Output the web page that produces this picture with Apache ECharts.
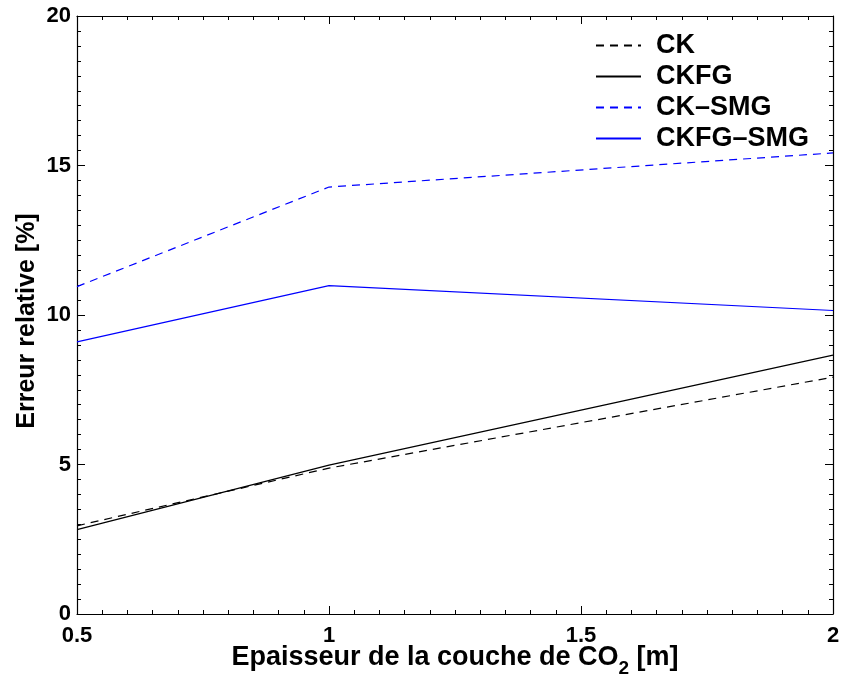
<!DOCTYPE html>
<html><head><meta charset="utf-8">
<script src="https://cdn.jsdelivr.net/npm/echarts@6/dist/echarts.min.js"></script>
<style>html,body{margin:0;padding:0;background:#fff}#c{width:844px;height:677px}</style>
</head><body><div id="c"></div>
<script>
const xValues = [0.5, 1, 2];
const ck = [2.95, 4.88, 7.92];
const ckfg = [2.82, 4.98, 8.66];
const ckSmg = [10.95, 14.28, 15.42];
const ckfgSmg = [9.1, 10.98, 10.15];
const seriesNames = ['CK', 'CKFG', 'CK\u2013SMG', 'CKFG\u2013SMG'];

const FONT = '"Liberation Sans", Arial, sans-serif';
const pair = (ys) => xValues.map((x, i) => [x, ys[i]]);
const mk = (name, ys, color, type) => ({
  name, type: 'line', data: pair(ys), symbol: 'none', showSymbol: false, smooth: false,
  lineStyle: {color, width: 1.2, type}, itemStyle: {color}, z: 3
});
const tickStyle = {show: true, inside: true, length: 8, lineStyle: {color: '#000', width: 1}};
const minorStyle = {show: true, splitNumber: 10, length: 4, lineStyle: {color: '#000', width: 1}};

const chart = echarts.init(document.getElementById('c'));
chart.setOption({
  animation: false,
  backgroundColor: '#fff',
  grid: {left: 77, right: 11, top: 16, bottom: 63, show: false, containLabel: false, outerBoundsMode: 'none'},
  legend: {
    orient: 'vertical', right: 30, top: 27, itemWidth: 45, itemHeight: 14, itemGap: 4,
    itemStyle: {opacity: 0},
    textStyle: {fontFamily: FONT, fontWeight: 'bold', fontSize: 27, color: '#000', padding: [0, 0, 0, 10]},
    data: seriesNames
  },
  xAxis: [{
    type: 'value', min: 0.5, max: 2, interval: 0.5,
    axisLine: {show: true, onZero: false, lineStyle: {color: '#000', width: 1.2}},
    axisTick: tickStyle, minorTick: minorStyle,
    splitLine: {show: false},
    axisLabel: {fontFamily: FONT, fontWeight: 'bold', fontSize: 22, color: '#000', margin: 11,
      formatter: v => String(v)},
    name: 'Epaisseur de la couche de CO{sub|2} [m]', nameLocation: 'middle', nameGap: 23,
    nameMoveOverlap: false,
    nameTextStyle: {fontFamily: FONT, fontWeight: 'bold', fontSize: 27, color: '#000',
      rich: {sub: {fontFamily: FONT, fontWeight: 'bold', fontSize: 19, color: '#000', verticalAlign: 'bottom', padding: [22, 0, 0, 0]}}}
  }, {
    type: 'value', min: 0.5, max: 2, interval: 0.5, position: 'top',
    axisLine: {show: true, onZero: false, lineStyle: {color: '#000', width: 1.2}},
    axisTick: tickStyle, minorTick: minorStyle, splitLine: {show: false},
    axisLabel: {show: false}
  }],
  yAxis: [{
    type: 'value', min: 0, max: 20, interval: 5,
    axisLine: {show: true, onZero: false, lineStyle: {color: '#000', width: 1.2}},
    axisTick: tickStyle, minorTick: minorStyle,
    splitLine: {show: false},
    axisLabel: {fontFamily: FONT, fontWeight: 'bold', fontSize: 22, color: '#000', margin: 6},
    name: 'Erreur relative [%]', nameLocation: 'middle', nameGap: 37, nameRotate: 90,
    nameMoveOverlap: false,
    nameTextStyle: {fontFamily: FONT, fontWeight: 'bold', fontSize: 25, color: '#000', padding: [0, 12, 0, 0]}
  }, {
    type: 'value', min: 0, max: 20, interval: 5, position: 'right',
    axisLine: {show: true, onZero: false, lineStyle: {color: '#000', width: 1.2}},
    axisTick: tickStyle, minorTick: minorStyle, splitLine: {show: false},
    axisLabel: {show: false}
  }],
  series: [
    mk(seriesNames[0], ck, '#000000', [8, 6]),
    mk(seriesNames[1], ckfg, '#000000', 'solid'),
    mk(seriesNames[2], ckSmg, '#0000ff', [8, 6]),
    mk(seriesNames[3], ckfgSmg, '#0000ff', 'solid')
  ]
});
</script></body></html>
